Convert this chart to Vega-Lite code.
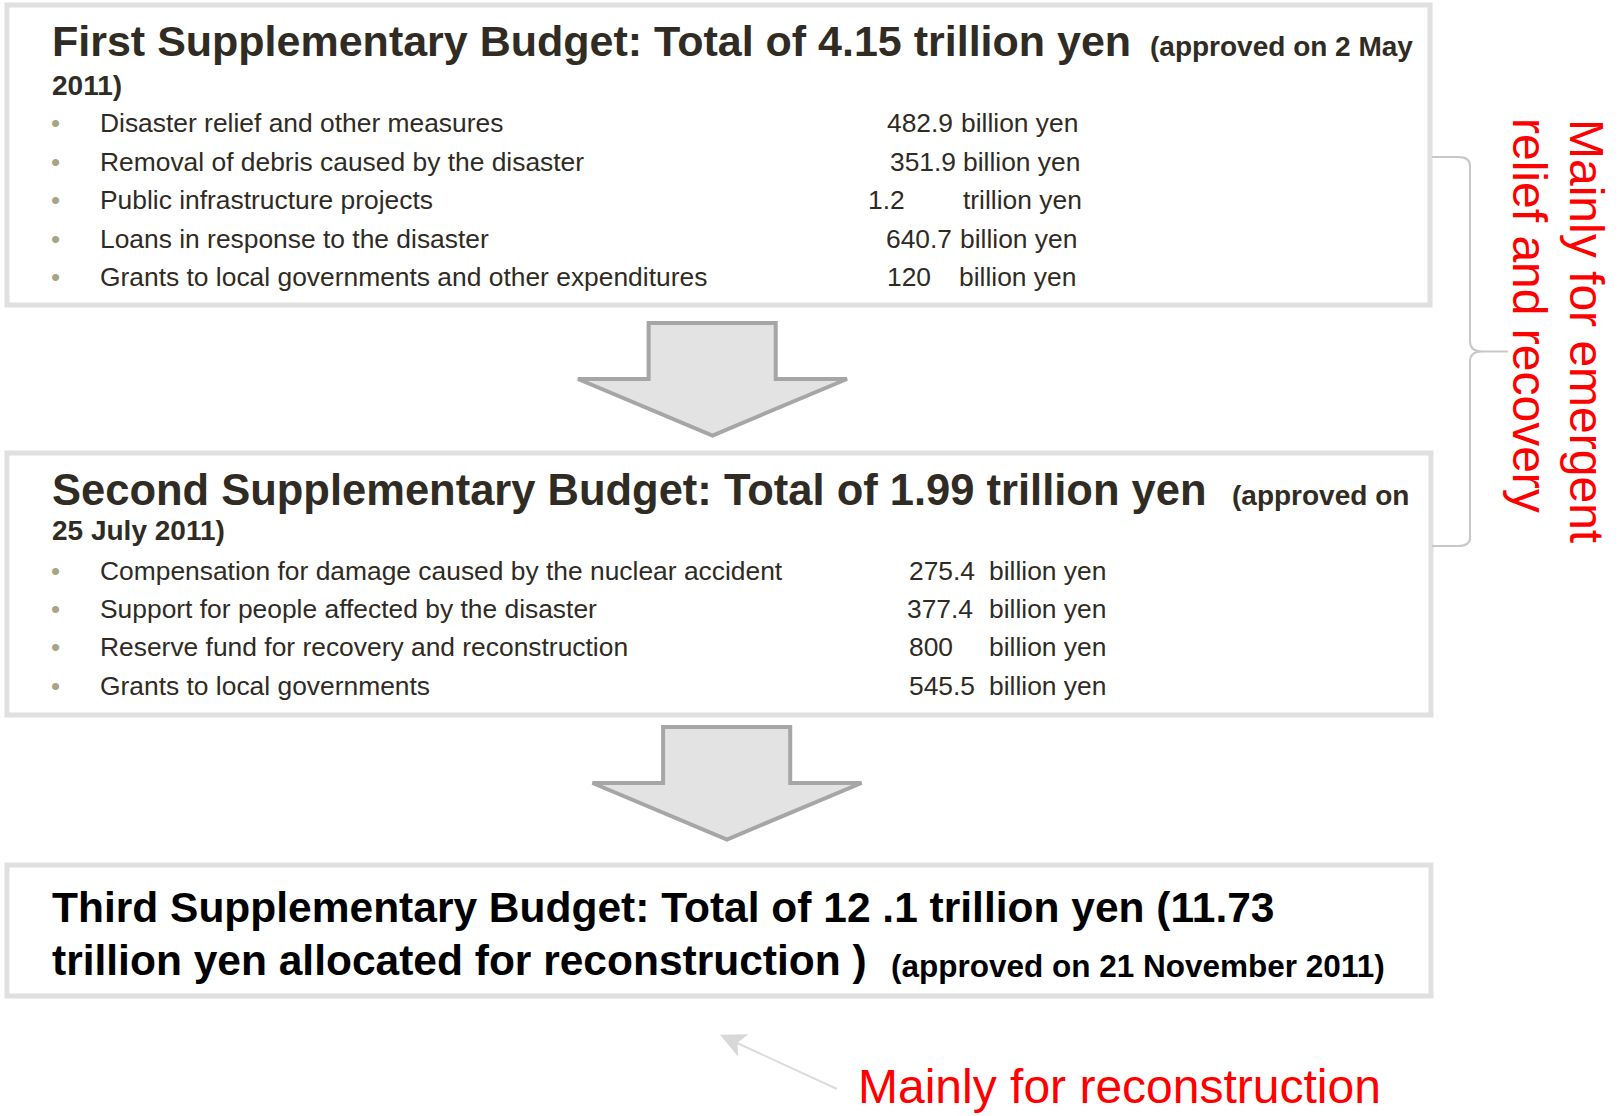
{
  "$schema": "https://vega.github.io/schema/vega-lite/v6.json",
  "width": 1624,
  "height": 1116,
  "autosize": {"type": "fit", "contains": "padding"},
  "padding": 0,
  "background": "white",
  "config": {"view": {"stroke": null}},
  "datasets": {
    "boxes": [
      {"box": "First", "x": 7, "x2": 1430, "y": 5, "y2": 305},
      {"box": "Second", "x": 7, "x2": 1431, "y": 453, "y2": 715},
      {"box": "Third", "x": 7, "x2": 1431, "y": 865, "y2": 996}
    ],
    "arrows": [
      {"step": "First to Second", "x": 712.5, "y": 379},
      {"step": "Second to Third", "x": 727, "y": 783}
    ],
    "brace": [{"group": "First and Second", "x": 1470, "y": 351.5}],
    "pointer": [{"from": "label", "x": 837, "y": 1089, "x2": 737, "y2": 1043, "hx": 736, "hy": 1042}],
    "titleFirst": [
      {"text": "First Supplementary Budget: Total of 4.15 trillion yen", "x": 52, "y": 56}
    ],
    "titleSecond": [
      {"text": "Second Supplementary Budget: Total of 1.99 trillion yen", "x": 52, "y": 505}
    ],
    "titlesBlack": [
      {"text": "Third Supplementary Budget: Total of 12 .1 trillion yen (11.73", "x": 52, "y": 922},
      {"text": "trillion yen allocated for reconstruction )", "x": 52, "y": 975}
    ],
    "subsDark": [
      {"text": "(approved on 2 May", "x": 1150, "y": 56},
      {"text": "2011)", "x": 52, "y": 95},
      {"text": "(approved on", "x": 1232, "y": 505},
      {"text": "25 July 2011)", "x": 52, "y": 540}
    ],
    "subsBlack": [
      {"text": "(approved on 21 November 2011)", "x": 891, "y": 977}
    ],
    "items": [
      {"label": "Disaster relief and other measures", "num": "482.9", "unit": "billion yen", "y": 132, "lx": 100, "bx": 51, "nx": 887, "ux": 961},
      {"label": "Removal of debris caused by the disaster", "num": "351.9", "unit": "billion yen", "y": 171, "lx": 100, "bx": 51, "nx": 890, "ux": 963},
      {"label": "Public infrastructure projects", "num": "1.2", "unit": "trillion yen", "y": 209, "lx": 100, "bx": 51, "nx": 868, "ux": 963},
      {"label": "Loans in response to the disaster", "num": "640.7", "unit": "billion yen", "y": 248, "lx": 100, "bx": 51, "nx": 886, "ux": 960},
      {"label": "Grants to local governments and other expenditures", "num": "120", "unit": "billion yen", "y": 286, "lx": 100, "bx": 51, "nx": 887, "ux": 959},
      {"label": "Compensation for damage caused by the nuclear accident", "num": "275.4", "unit": "billion yen", "y": 580, "lx": 100, "bx": 51, "nx": 909, "ux": 989},
      {"label": "Support for people affected by the disaster", "num": "377.4", "unit": "billion yen", "y": 618, "lx": 100, "bx": 51, "nx": 907, "ux": 989},
      {"label": "Reserve fund for recovery and reconstruction", "num": "800", "unit": "billion yen", "y": 656, "lx": 100, "bx": 51, "nx": 909, "ux": 989},
      {"label": "Grants to local governments", "num": "545.5", "unit": "billion yen", "y": 695, "lx": 100, "bx": 51, "nx": 909, "ux": 989}
    ],
    "redHorizontal": [
      {"text": "Mainly for reconstruction", "x": 858, "y": 1103}
    ],
    "redVertical": [
      {"text": "Mainly for emergent", "x": 1570, "y": 119},
      {"text": "relief and recovery", "x": 1513, "y": 118}
    ]
  },
  "layer": [
    {
      "data": {"name": "boxes"},
      "mark": {"type": "rect", "fill": "white", "stroke": "#e0e0e0", "strokeWidth": 5},
      "encoding": {
        "x": {"field": "x", "type": "quantitative", "scale": {"domain": [0, 1624], "nice": false, "zero": false}, "axis": null},
        "x2": {"field": "x2"},
        "y": {"field": "y", "type": "quantitative", "scale": {"domain": [0, 1116], "nice": false, "zero": false, "reverse": true}, "axis": null},
        "y2": {"field": "y2"}
      }
    },
    {
      "data": {"name": "brace"},
      "mark": {"type": "point", "filled": false, "opacity": 1, "color": "#c8c8c8", "strokeWidth": 2, "size": 151321,
        "shape": "M -0.195 -1 L -0.062 -1 C -0.021 -1 0 -0.987 0 -0.956 L 0 -0.051 C 0 -0.015 0.021 0 0.062 0 L 0.195 0 M 0.195 0 L 0.062 0 C 0.021 0 0 0.015 0 0.051 L 0 0.956 C 0 0.987 -0.021 1 -0.062 1 L -0.195 1"},
      "encoding": {
        "x": {"field": "x", "type": "quantitative", "scale": {"domain": [0, 1624], "nice": false, "zero": false}, "axis": null},
        "y": {"field": "y", "type": "quantitative", "scale": {"domain": [0, 1116], "nice": false, "zero": false, "reverse": true}, "axis": null}
      }
    },
    {
      "data": {"name": "arrows"},
      "mark": {"type": "point", "filled": true, "opacity": 1, "fill": "#e3e3e3", "stroke": "#a6a6a6", "strokeWidth": 4, "size": 72361,
        "shape": "M -0.475 -0.416 L 0.47 -0.416 L 0.47 0 L 1 0 L 0 0.42 L -1 0 L -0.475 0 Z"},
      "encoding": {
        "x": {"field": "x", "type": "quantitative", "scale": {"domain": [0, 1624], "nice": false, "zero": false}, "axis": null},
        "y": {"field": "y", "type": "quantitative", "scale": {"domain": [0, 1116], "nice": false, "zero": false, "reverse": true}, "axis": null}
      }
    },
    {
      "data": {"name": "pointer"},
      "mark": {"type": "rule", "color": "#dcdcdc", "strokeWidth": 2},
      "encoding": {
        "x": {"field": "x", "type": "quantitative", "scale": {"domain": [0, 1624], "nice": false, "zero": false}, "axis": null},
        "x2": {"field": "x2"},
        "y": {"field": "y", "type": "quantitative", "scale": {"domain": [0, 1116], "nice": false, "zero": false, "reverse": true}, "axis": null},
        "y2": {"field": "y2"}
      }
    },
    {
      "data": {"name": "pointer"},
      "mark": {"type": "point", "filled": true, "opacity": 1, "color": "#d8d8d8", "size": 1225, "angle": 294.8,
        "shape": "M 0 -1 L 0.7 0.45 L 0 0.1 L -0.7 0.45 Z"},
      "encoding": {
        "x": {"field": "hx", "type": "quantitative", "scale": {"domain": [0, 1624], "nice": false, "zero": false}, "axis": null},
        "y": {"field": "hy", "type": "quantitative", "scale": {"domain": [0, 1116], "nice": false, "zero": false, "reverse": true}, "axis": null}
      }
    },
    {
      "data": {"name": "titleFirst"},
      "mark": {"type": "text", "align": "left", "baseline": "alphabetic", "font": "Liberation Sans", "fontWeight": "bold", "fontSize": 43, "color": "#302c24"},
      "encoding": {
        "x": {"field": "x", "type": "quantitative", "scale": {"domain": [0, 1624], "nice": false, "zero": false}, "axis": null},
        "y": {"field": "y", "type": "quantitative", "scale": {"domain": [0, 1116], "nice": false, "zero": false, "reverse": true}, "axis": null},
        "text": {"field": "text"}
      }
    },
    {
      "data": {"name": "titleSecond"},
      "mark": {"type": "text", "align": "left", "baseline": "alphabetic", "font": "Liberation Sans", "fontWeight": "bold", "fontSize": 43.5, "color": "#302c24"},
      "encoding": {
        "x": {"field": "x", "type": "quantitative", "scale": {"domain": [0, 1624], "nice": false, "zero": false}, "axis": null},
        "y": {"field": "y", "type": "quantitative", "scale": {"domain": [0, 1116], "nice": false, "zero": false, "reverse": true}, "axis": null},
        "text": {"field": "text"}
      }
    },
    {
      "data": {"name": "titlesBlack"},
      "mark": {"type": "text", "align": "left", "baseline": "alphabetic", "font": "Liberation Sans", "fontWeight": "bold", "fontSize": 42.5, "color": "#000000"},
      "encoding": {
        "x": {"field": "x", "type": "quantitative", "scale": {"domain": [0, 1624], "nice": false, "zero": false}, "axis": null},
        "y": {"field": "y", "type": "quantitative", "scale": {"domain": [0, 1116], "nice": false, "zero": false, "reverse": true}, "axis": null},
        "text": {"field": "text"}
      }
    },
    {
      "data": {"name": "subsDark"},
      "mark": {"type": "text", "align": "left", "baseline": "alphabetic", "font": "Liberation Sans", "fontWeight": "bold", "fontSize": 28, "color": "#302c24"},
      "encoding": {
        "x": {"field": "x", "type": "quantitative", "scale": {"domain": [0, 1624], "nice": false, "zero": false}, "axis": null},
        "y": {"field": "y", "type": "quantitative", "scale": {"domain": [0, 1116], "nice": false, "zero": false, "reverse": true}, "axis": null},
        "text": {"field": "text"}
      }
    },
    {
      "data": {"name": "subsBlack"},
      "mark": {"type": "text", "align": "left", "baseline": "alphabetic", "font": "Liberation Sans", "fontWeight": "bold", "fontSize": 31.5, "color": "#000000"},
      "encoding": {
        "x": {"field": "x", "type": "quantitative", "scale": {"domain": [0, 1624], "nice": false, "zero": false}, "axis": null},
        "y": {"field": "y", "type": "quantitative", "scale": {"domain": [0, 1116], "nice": false, "zero": false, "reverse": true}, "axis": null},
        "text": {"field": "text"}
      }
    },
    {
      "data": {"name": "items"},
      "mark": {"type": "text", "align": "left", "baseline": "alphabetic", "font": "Liberation Sans", "fontSize": 26, "color": "#a8a483", "text": "•"},
      "encoding": {
        "x": {"field": "bx", "type": "quantitative", "scale": {"domain": [0, 1624], "nice": false, "zero": false}, "axis": null},
        "y": {"field": "y", "type": "quantitative", "scale": {"domain": [0, 1116], "nice": false, "zero": false, "reverse": true}, "axis": null}
      }
    },
    {
      "data": {"name": "items"},
      "mark": {"type": "text", "align": "left", "baseline": "alphabetic", "font": "Liberation Sans", "fontSize": 26.4, "color": "#2f2b24"},
      "encoding": {
        "x": {"field": "lx", "type": "quantitative", "scale": {"domain": [0, 1624], "nice": false, "zero": false}, "axis": null},
        "y": {"field": "y", "type": "quantitative", "scale": {"domain": [0, 1116], "nice": false, "zero": false, "reverse": true}, "axis": null},
        "text": {"field": "label"}
      }
    },
    {
      "data": {"name": "items"},
      "mark": {"type": "text", "align": "left", "baseline": "alphabetic", "font": "Liberation Sans", "fontSize": 26.4, "color": "#2f2b24"},
      "encoding": {
        "x": {"field": "nx", "type": "quantitative", "scale": {"domain": [0, 1624], "nice": false, "zero": false}, "axis": null},
        "y": {"field": "y", "type": "quantitative", "scale": {"domain": [0, 1116], "nice": false, "zero": false, "reverse": true}, "axis": null},
        "text": {"field": "num"}
      }
    },
    {
      "data": {"name": "items"},
      "mark": {"type": "text", "align": "left", "baseline": "alphabetic", "font": "Liberation Sans", "fontSize": 26.4, "color": "#2f2b24"},
      "encoding": {
        "x": {"field": "ux", "type": "quantitative", "scale": {"domain": [0, 1624], "nice": false, "zero": false}, "axis": null},
        "y": {"field": "y", "type": "quantitative", "scale": {"domain": [0, 1116], "nice": false, "zero": false, "reverse": true}, "axis": null},
        "text": {"field": "unit"}
      }
    },
    {
      "data": {"name": "redHorizontal"},
      "mark": {"type": "text", "align": "left", "baseline": "alphabetic", "font": "Liberation Sans", "fontSize": 48, "color": "#ff0000"},
      "encoding": {
        "x": {"field": "x", "type": "quantitative", "scale": {"domain": [0, 1624], "nice": false, "zero": false}, "axis": null},
        "y": {"field": "y", "type": "quantitative", "scale": {"domain": [0, 1116], "nice": false, "zero": false, "reverse": true}, "axis": null},
        "text": {"field": "text"}
      }
    },
    {
      "data": {"name": "redVertical"},
      "mark": {"type": "text", "align": "left", "baseline": "alphabetic", "font": "Liberation Sans", "fontSize": 48, "color": "#ff0000", "angle": 90},
      "encoding": {
        "x": {"field": "x", "type": "quantitative", "scale": {"domain": [0, 1624], "nice": false, "zero": false}, "axis": null},
        "y": {"field": "y", "type": "quantitative", "scale": {"domain": [0, 1116], "nice": false, "zero": false, "reverse": true}, "axis": null},
        "text": {"field": "text"}
      }
    }
  ]
}
